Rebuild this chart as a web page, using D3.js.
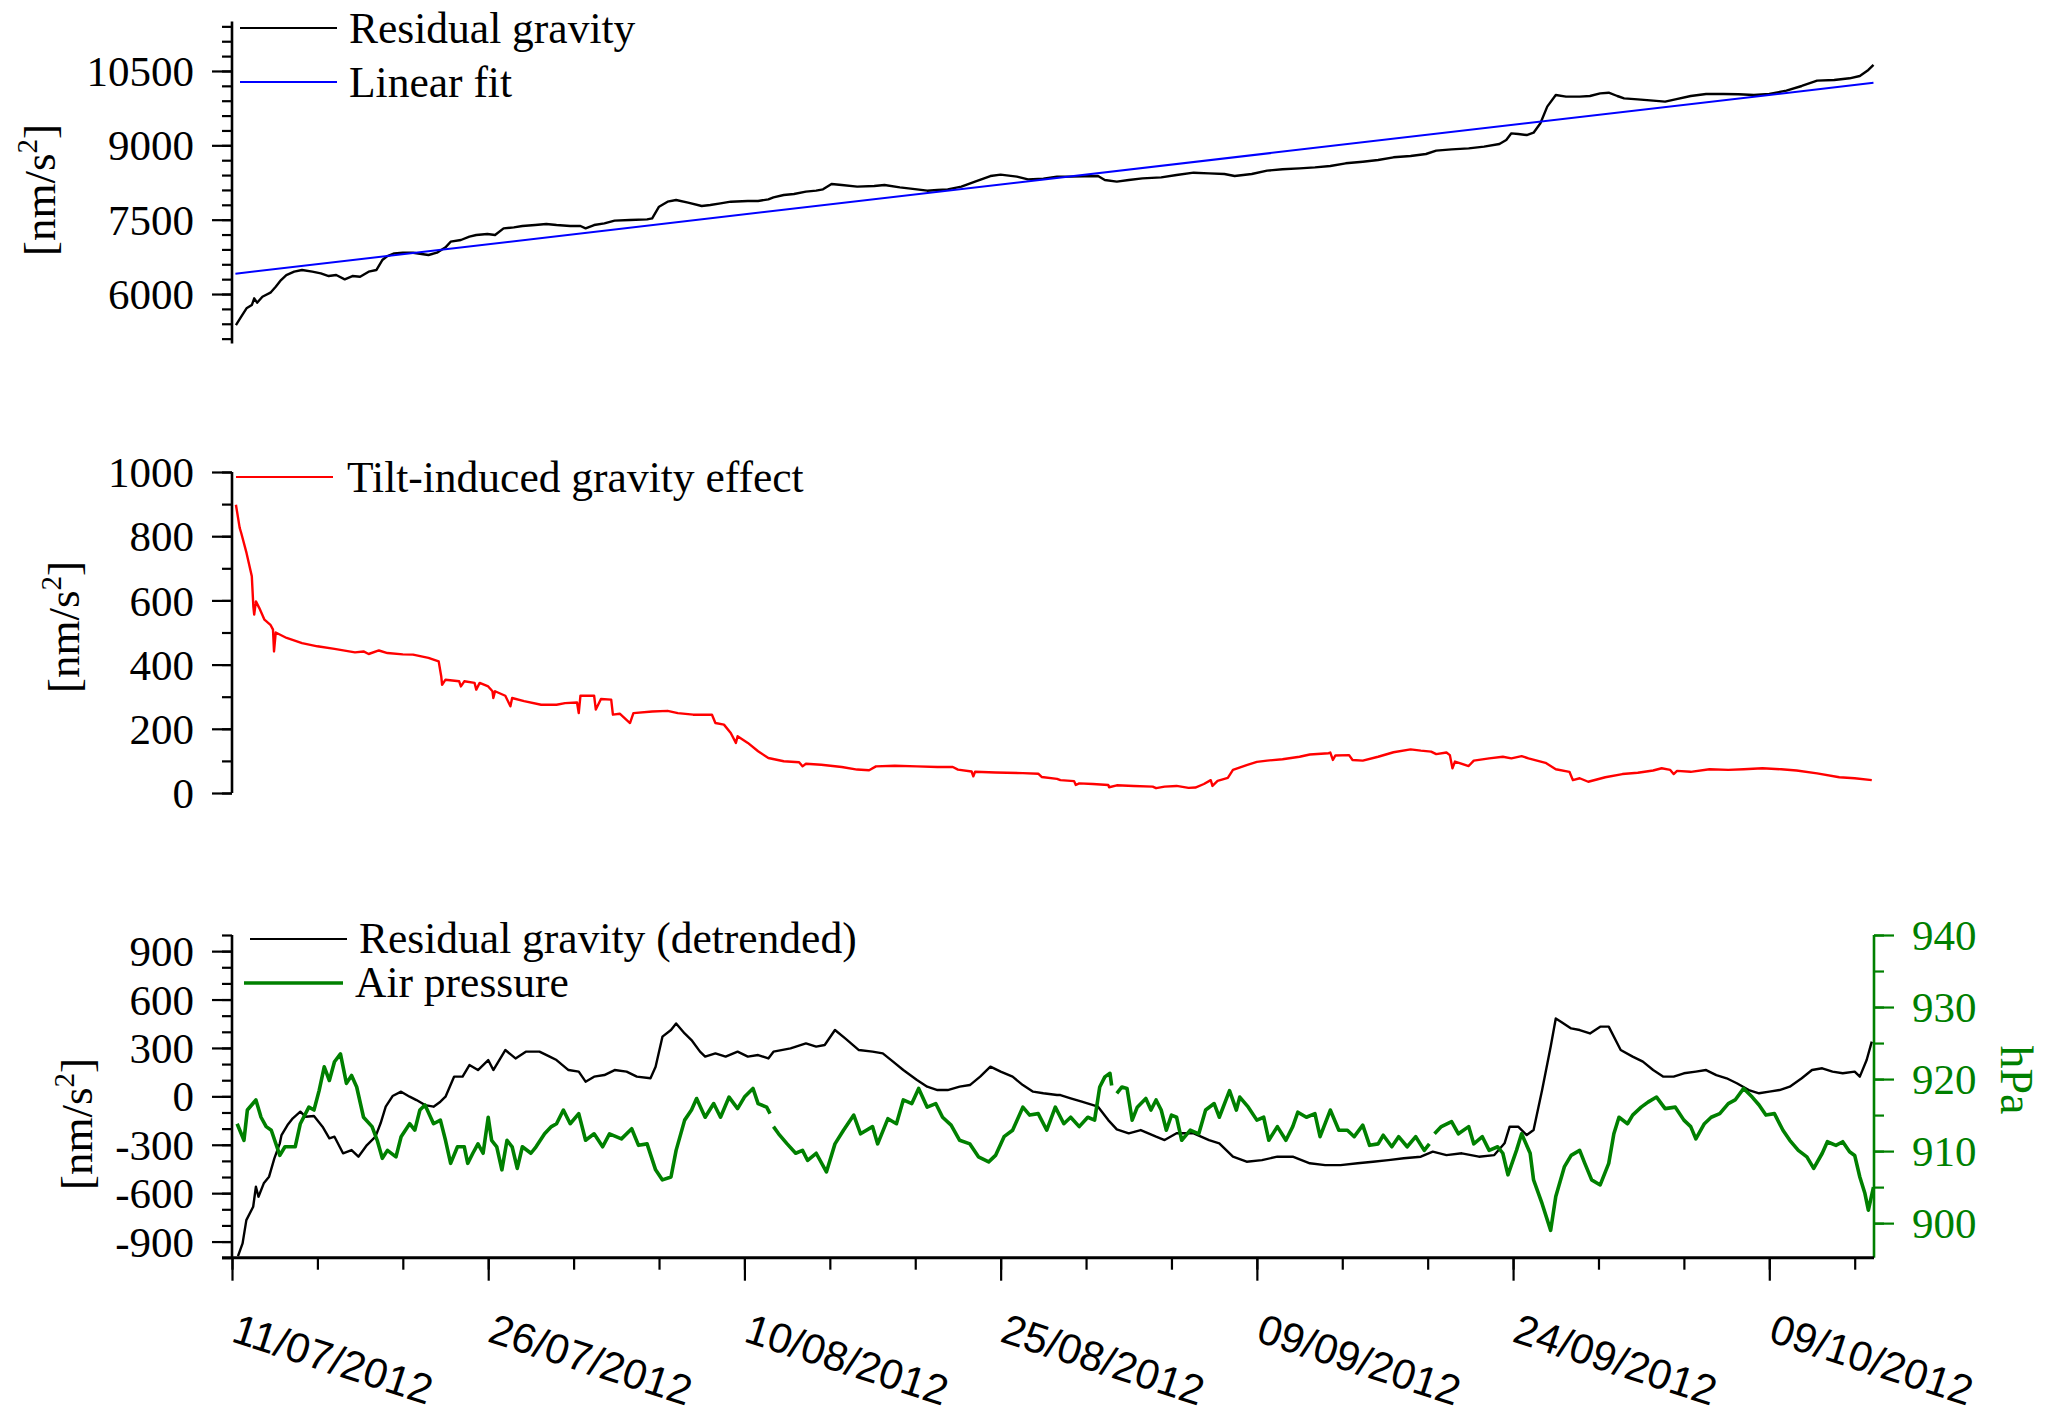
<!DOCTYPE html>
<html>
<head>
<meta charset="utf-8">
<script src="https://cdn.jsdelivr.net/npm/d3@7"></script>
<style>
  body { margin: 0; background: #fff; }
  svg { display: block; }
</style>
</head>
<body>
<svg id="chart" width="2045" height="1422"></svg>
<script>
// ---- Data: [days since 11/07/2012 00:00 UTC, value] ----

// Residual gravity, nm/s^2
const residualGravity = [
  [0.23,5374],[0.54,5543],[0.85,5711],[1.16,5778],[1.3,5913],[1.47,5825],[1.78,5946],[2.25,6027],
  [2.56,6148],[2.87,6282],[3.18,6383],[3.64,6451],[4.1,6484],[4.7,6451],[5.2,6417],[5.66,6363],
  [6.1,6383],[6.6,6296],[7.05,6363],[7.5,6350],[8.0,6451],[8.45,6484],[8.8,6686],[9.1,6767],
  [9.5,6821],[10.0,6834],[10.6,6834],[11.1,6807],[11.5,6787],[12.0,6834],[12.5,6942],[12.8,7056],
  [13.4,7090],[13.9,7157],[14.3,7191],[14.95,7211],[15.4,7191],[15.9,7325],[16.5,7345],[17.0,7372],
  [17.75,7392],[18.4,7412],[19.0,7392],[19.8,7372],[20.4,7372],[20.7,7325],[21.2,7392],[21.8,7426],
  [22.4,7480],[23.3,7493],[24.3,7507],[24.6,7527],[25.0,7762],[25.5,7863],[26.0,7897],[26.7,7843],
  [27.5,7776],[28.0,7796],[28.6,7830],[29.2,7863],[30.2,7877],[30.8,7877],[31.4,7910],[31.7,7950],
  [32.3,7998],[32.9,8018],[33.6,8065],[34.2,8085],[34.6,8112],[35.1,8220],[35.7,8199],[36.6,8166],
  [37.6,8179],[38.2,8199],[39.1,8152],[40.1,8112],[40.7,8085],[41.3,8098],[41.9,8112],[42.7,8166],
  [43.5,8267],[44.4,8381],[45.0,8408],[45.95,8368],[46.6,8314],[47.5,8327],[48.3,8368],[49.1,8368],
  [50.7,8381],[51.1,8300],[51.8,8267],[52.5,8300],[53.3,8334],[54.4,8354],[55.3,8401],[56.3,8448],
  [57.2,8435],[58.1,8421],[58.7,8381],[59.7,8421],[60.6,8489],[61.5,8516],[62.5,8536],[63.4,8556],
  [64.3,8583],[65.2,8637],[66.2,8670],[67.1,8704],[68.0,8758],[69.0,8785],[69.9,8825],[70.5,8892],
  [71.4,8919],[72.4,8939],[73.3,8973],[74.2,9027],[74.6,9107],[74.9,9242],[75.3,9228],[75.8,9208],
  [76.2,9255],[76.6,9444],[77.0,9780],[77.5,10015],[78.1,9982],[78.9,9982],[79.5,9995],[80.1,10049],
  [80.6,10062],[81.1,9995],[81.5,9948],[82.3,9928],[83.2,9901],[83.9,9881],[84.5,9928],[85.4,9995],
  [86.3,10036],[87.3,10036],[88.2,10029],[89.1,10015],[90.0,10036],[91.0,10103],[91.9,10197],
  [92.8,10305],[93.8,10318],[94.7,10352],[95.3,10399],[95.8,10520],[96.1,10621]
];

// Linear fit through the residual gravity (end points)
const linearFit = [[0.2,6410],[96.1,10262]];

// Tilt-induced gravity effect, nm/s^2
const tiltEffect = [
  [0.23,898],[0.45,826],[0.54,810],[0.85,748],[1.16,675],[1.25,581],[1.3,556],[1.4,597],[1.6,576],
  [1.9,540],[2.25,524],[2.4,509],[2.46,441],[2.56,500],[3.2,483],[4.1,467],[5.0,457],[6.0,449],
  [7.2,438],[7.7,441],[8.0,433],[8.6,444],[9.1,436],[10.0,432],[10.6,431],[11.5,421],[12.1,410],
  [12.25,363],[12.3,337],[12.5,353],[13.3,348],[13.4,332],[13.6,348],[14.2,343],[14.3,322],[14.5,343],
  [15.0,332],[15.25,317],[15.3,296],[15.4,317],[16.0,303],[16.3,270],[16.4,296],[17.1,286],[18.1,275],
  [19.0,275],[19.5,280],[20.2,282],[20.3,249],[20.4,303],[21.2,303],[21.3,260],[21.6,293],[22.2,291],
  [22.3,244],[22.7,247],[23.3,218],[23.5,249],[24.6,254],[25.5,256],[26.1,249],[27.0,244],[28.1,244],
  [28.3,218],[28.8,213],[29.2,187],[29.5,156],[29.6,177],[30.2,156],[30.8,130],[31.4,109],[32.3,99],
  [33.2,96],[33.4,83],[33.6,91],[34.5,88],[35.7,81],[36.6,73],[37.3,71],[37.7,83],[38.8,85],[40.1,83],
  [41.3,81],[42.2,81],[42.5,73],[43.3,67],[43.4,52],[43.5,66],[44.7,64],[46.3,62],[47.2,60],[47.4,50],
  [48.3,44],[48.5,40],[49.3,37],[49.4,25],[49.6,30],[50.4,28],[51.3,25],[51.35,18],[51.8,24],[52.8,22],
  [53.9,20],[54.1,15],[54.6,20],[55.3,22],[56.0,16],[56.4,17],[56.9,28],[57.3,40],[57.4,22],[57.7,38],
  [58.3,47],[58.6,72],[59.4,87],[60.0,97],[60.6,101],[61.5,105],[62.5,113],[63.1,120],[64.2,124],
  [64.3,126],[64.45,103],[64.6,117],[65.4,118],[65.6,103],[66.2,101],[67.1,113],[68.0,127],[69.0,136],
  [69.6,132],[70.2,129],[70.5,121],[71.1,126],[71.3,118],[71.45,77],[71.6,98],[72.4,84],[72.7,101],
  [73.6,108],[74.4,113],[74.9,108],[75.5,115],[75.9,108],[76.9,94],[77.5,74],[78.3,66],[78.5,40],
  [78.9,46],[79.4,35],[80.4,49],[81.4,59],[82.3,63],[83.2,70],[83.7,77],[84.2,72],[84.4,59],[84.6,69],
  [85.4,66],[86.5,74],[87.6,72],[88.5,74],[89.6,77],[90.7,74],[91.6,70],[92.8,61],[94.1,49],[95.0,46],
  [96.0,40]
];

// Residual gravity after removing the linear fit, nm/s^2
const detrendedGravity = [
  [0.35,-990],[0.62,-911],[0.84,-767],[1.24,-684],[1.4,-560],[1.55,-622],[1.86,-539],[2.17,-498],
  [2.48,-384],[2.8,-291],[2.9,-240],[3.25,-178],[3.56,-136],[4.0,-95],[4.3,-126],[4.8,-122],[5.3,-188],
  [5.7,-260],[6.0,-250],[6.5,-353],[7.0,-333],[7.4,-374],[7.9,-302],[8.4,-250],[8.7,-167],[9.0,-64],
  [9.4,2],[9.9,29],[10.4,-2],[10.8,-23],[11.3,-54],[11.8,-64],[12.2,-33],[12.5,-2],[13.0,122],
  [13.5,122],[13.9,194],[14.4,163],[15.0,225],[15.3,163],[16.0,287],[16.6,235],[17.2,277],[18.0,277],
  [18.6,246],[19.0,225],[19.7,163],[20.3,153],[20.7,91],[21.2,122],[21.8,132],[22.4,163],[23.1,153],
  [23.7,122],[24.5,112],[24.8,184],[25.2,370],[25.7,411],[26.0,452],[26.5,390],[26.9,349],[27.4,277],
  [27.7,246],[28.3,266],[28.9,246],[29.6,277],[30.2,246],[30.8,256],[31.4,235],[31.7,277],[32.7,297],
  [33.6,328],[34.2,308],[34.7,318],[35.3,411],[35.9,359],[36.7,287],[37.5,277],[38.1,266],[38.7,215],
  [39.3,163],[40.1,101],[40.7,60],[41.3,39],[41.9,39],[42.6,60],[43.2,70],[43.8,122],[44.4,184],
  [45.0,153],[45.7,122],[46.3,70],[46.9,29],[47.5,19],[48.3,8],[48.5,8],[49.1,-12],[49.75,-33],
  [50.7,-64],[51.3,-147],[51.8,-205],[52.5,-229],[53.2,-209],[54.1,-250],[54.6,-271],[55.3,-229],
  [56.3,-229],[57.2,-271],[57.8,-291],[58.6,-374],[59.4,-405],[60.3,-395],[61.2,-374],[62.1,-374],
  [63.1,-415],[64.0,-426],[64.9,-426],[65.9,-415],[66.8,-405],[67.7,-395],[68.6,-384],[69.6,-374],
  [70.3,-343],[71.1,-364],[72.0,-353],[73.0,-374],[73.9,-364],[74.5,-291],[74.8,-188],[75.3,-188],
  [75.8,-240],[76.2,-209],[76.7,39],[77.2,308],[77.5,483],[77.8,463],[78.4,421],[78.9,411],[79.5,390],
  [80.1,432],[80.6,432],[81.3,287],[82.0,246],[82.6,215],[83.2,163],[83.8,122],[84.4,122],[85.0,143],
  [85.7,153],[86.3,163],[86.9,132],[87.5,112],[88.1,81],[88.8,39],[89.4,19],[90.0,29],[90.6,39],
  [91.2,60],[91.9,112],[92.5,163],[93.1,174],[93.7,153],[94.3,143],[95.0,153],[95.3,122],[95.7,225],
  [96.0,339]
];

// Air pressure, hPa (null marks a gap in the record)
const airPressure = [
  [0.3,913.8],[0.7,911.5],[0.9,915.7],[1.4,917.1],[1.7,914.7],[2.0,913.4],[2.3,912.9],[2.8,909.4],
  [3.1,910.6],[3.4,910.6],[3.7,910.6],[4.0,913.8],[4.5,916.1],[4.8,915.7],[5.1,918.4],[5.4,921.7],
  [5.7,919.8],[6.0,922.4],[6.35,923.5],[6.7,919.4],[7.0,920.5],[7.3,918.9],[7.7,914.7],[8.2,913.4],
  [8.5,911.5],[8.8,909.0],[9.1,910.1],[9.6,909.2],[9.9,912.0],[10.4,913.8],[10.7,912.9],[11.0,915.7],
  [11.3,916.4],[11.8,913.8],[12.2,914.3],[12.5,911.5],[12.8,908.3],[13.2,910.6],[13.6,910.6],
  [13.8,908.3],[14.1,909.7],[14.4,911.0],[14.7,909.7],[15.0,914.7],[15.2,911.5],[15.5,910.6],
  [15.8,907.4],[16.1,911.5],[16.4,910.6],[16.7,907.6],[17.0,910.6],[17.5,909.7],[17.8,910.6],
  [18.3,912.4],[18.7,913.4],[19.0,913.8],[19.4,915.7],[19.8,913.8],[20.3,915.2],[20.7,911.5],
  [21.2,912.4],[21.7,910.6],[22.1,912.4],[22.8,911.7],[23.4,913.1],[23.8,910.8],[24.3,911.0],
  [24.8,907.4],[25.2,906.0],[25.7,906.4],[26.0,910.1],[26.5,914.3],[26.9,915.7],[27.2,917.3],
  [27.7,914.7],[28.2,916.6],[28.6,914.7],[29.1,917.5],[29.6,915.9],[30.0,917.5],[30.5,918.7],
  [30.8,916.6],[31.3,916.1],[31.5,915.2],[31.6,null],
  [31.7,913.4],[32.0,912.4],[32.5,911.0],[33.0,909.7],[33.4,910.1],[33.7,908.7],[34.2,909.7],
  [34.8,907.1],[35.3,911.0],[35.8,912.9],[36.4,915.0],[36.8,912.4],[37.5,913.4],[37.8,911.0],
  [38.4,914.5],[38.9,913.8],[39.3,917.1],[39.8,916.6],[40.2,918.7],[40.7,916.1],[41.2,916.6],
  [41.6,914.7],[42.1,913.6],[42.6,911.5],[43.2,911.0],[43.7,909.2],[44.3,908.5],[44.7,909.4],
  [45.2,912.0],[45.7,912.9],[46.3,916.1],[46.7,915.0],[47.2,915.2],[47.7,912.9],[48.2,916.1],
  [48.7,913.8],[49.1,914.7],[49.6,913.4],[50.1,914.7],[50.5,914.3],[50.8,918.9],[51.1,920.3],
  [51.4,920.8],[51.5,919.1],[51.65,null],
  [51.8,918.0],[52.1,918.9],[52.4,918.7],[52.7,914.3],[53.0,916.1],[53.5,917.3],[53.8,915.7],
  [54.1,917.1],[54.4,915.7],[54.7,912.9],[55.0,915.0],[55.3,914.7],[55.6,911.5],[56.1,912.9],
  [56.6,912.4],[57.0,915.7],[57.5,916.6],[57.8,914.7],[58.4,918.4],[58.8,915.7],[59.0,917.5],
  [59.5,916.1],[60.0,914.3],[60.4,914.7],[60.7,911.5],[61.2,913.4],[61.7,911.5],[62.1,913.4],
  [62.4,915.4],[62.9,914.7],[63.4,915.2],[63.7,912.0],[64.3,915.7],[64.8,912.9],[65.3,912.9],
  [65.7,912.0],[66.2,913.6],[66.6,910.8],[67.1,911.0],[67.4,912.2],[67.9,910.6],[68.3,912.0],
  [68.8,910.6],[69.3,912.0],[69.8,910.1],[70.1,911.0],[70.25,null],
  [70.4,912.4],[70.8,913.4],[71.4,914.1],[71.8,912.4],[72.4,913.4],[72.7,911.0],[73.2,912.0],
  [73.6,910.1],[74.1,910.6],[74.4,909.7],[74.7,906.7],[75.2,910.1],[75.5,912.4],[76.0,909.7],
  [76.2,906.0],[76.7,902.7],[77.2,899.0],[77.5,903.7],[78.0,907.8],[78.4,909.4],[78.9,910.1],
  [79.2,908.3],[79.6,906.0],[80.1,905.3],[80.6,908.3],[80.9,912.4],[81.2,914.7],[81.7,913.8],
  [82.0,915.0],[82.5,916.1],[82.9,916.8],[83.4,917.5],[83.9,915.9],[84.5,916.1],[85.0,914.3],
  [85.4,913.4],[85.7,911.7],[86.2,913.8],[86.6,914.7],[87.1,915.2],[87.6,916.6],[88.0,917.1],
  [88.5,918.7],[89.0,917.5],[89.4,916.4],[89.8,915.0],[90.3,915.2],[90.8,912.9],[91.2,911.5],
  [91.7,910.1],[92.2,909.2],[92.6,907.6],[93.1,909.7],[93.4,911.3],[93.9,910.8],[94.3,911.3],
  [94.7,909.9],[95.0,909.4],[95.3,906.4],[95.6,904.1],[95.8,901.8],[96.1,905.0]
];

// Axis ticks and labels
const gravMajor = [6000, 7500, 9000, 10500];
const gravMinor = d3.range(5100, 11401, 300);
const tiltMajor = [0, 200, 400, 600, 800, 1000];
const tiltMinor = d3.range(0, 1001, 100);
const detMajor = [-900, -600, -300, 0, 300, 600, 900];
const detMinor = d3.range(-1000, 1001, 100);
const presMajor = [900, 910, 920, 930, 940];
const presMinor = d3.range(900, 941, 5);
const dateTickDays = [0, 15, 30, 45, 60, 75, 90];
const dateTickLabels = ["11/07/2012", "26/07/2012", "10/08/2012", "25/08/2012",
                        "09/09/2012", "24/09/2012", "09/10/2012"];
const dateMinorDays = d3.range(0, 96, 5);

// ---- Scales ----
const START = Date.UTC(2012, 6, 11);
const DAY_MS = 864e5;
const toDate = d => new Date(START + d * DAY_MS);

const x = d3.scaleUtc().domain([toDate(0), toDate(96.13)]).range([232, 1874]);
const yGrav = d3.scaleLinear().domain([5000, 11500]).range([343.6, 21.4]);
const yTilt = d3.scaleLinear().domain([0, 1000]).range([793, 472]);
const yDet = d3.scaleLinear().domain([-1000, 1000]).range([1257.7, 935]);
const yPres = d3.scaleLinear().domain([895.2, 940]).range([1257.7, 935]);

const GREEN = "#008000";
const SERIF = "'Liberation Serif', 'Times New Roman', serif";
const SANS = "'Liberation Sans', Arial, sans-serif";

const svg = d3.select("#chart");
svg.append("rect").attr("width", 2045).attr("height", 1422).attr("fill", "#fff");

// ---- Vertical axes ----
function yAxis(scale, xPos, major, minor, side, color) {
  const mk = side === "left" ? d3.axisLeft : d3.axisRight;
  const g = svg.append("g").attr("transform", `translate(${xPos},0)`);
  g.append("g")
    .call(mk(scale).tickValues(minor).tickSize(10).tickSizeOuter(0).tickFormat(""))
    .call(s => s.select(".domain").remove());
  g.append("g")
    .call(mk(scale).tickValues(major).tickSize(20).tickSizeOuter(0).tickPadding(18)
      .tickFormat(d => String(d)))
    .call(s => s.select(".domain").remove());
  g.selectAll(".tick line").attr("stroke", color).attr("stroke-width", 2.2);
  g.selectAll(".tick text")
    .attr("fill", color)
    .attr("font-family", SERIF)
    .attr("font-size", 43)
    .attr("dy", "0.34em");
  const r = scale.range();
  g.append("line").attr("x1", 0).attr("x2", 0).attr("y1", r[0]).attr("y2", r[1])
    .attr("stroke", color).attr("stroke-width", 2.6);
  return g;
}

yAxis(yGrav, 232, gravMajor, gravMinor, "left", "#000");
yAxis(yTilt, 232, tiltMajor, tiltMinor, "left", "#000");
yAxis(yDet, 232, detMajor, detMinor, "left", "#000");
yAxis(yPres, 1874, presMajor, presMinor, "right", GREEN);

// ---- Time axis (bottom panel) ----
const xg = svg.append("g").attr("transform", "translate(0,1257.7)");
xg.append("g")
  .call(d3.axisBottom(x).tickValues(dateMinorDays.map(toDate)).tickSize(12).tickSizeOuter(0).tickFormat(""))
  .call(s => s.select(".domain").remove());
xg.append("g")
  .call(d3.axisBottom(x).tickValues(dateTickDays.map(toDate)).tickSize(23).tickSizeOuter(0).tickFormat(""))
  .call(s => s.select(".domain").remove());
xg.selectAll(".tick line").attr("stroke", "#000").attr("stroke-width", 2.2);
xg.append("line").attr("x1", 222).attr("x2", 1874).attr("y1", 0).attr("y2", 0)
  .attr("stroke", "#000").attr("stroke-width", 3);

// Rotated date labels under the major ticks
svg.append("g").selectAll("text")
  .data(dateTickDays)
  .join("text")
  .attr("transform", d => `translate(${x(toDate(d)) - 2},1341) rotate(18)`)
  .attr("font-family", SANS)
  .attr("font-size", 42)
  .attr("fill", "#000")
  .text((d, i) => dateTickLabels[i]);

// ---- Series ----
const lineFor = yScale => d3.line()
  .defined(d => d[1] != null)
  .x(d => x(toDate(d[0])))
  .y(d => yScale(d[1]));

function drawSeries(data, yScale, color, width) {
  svg.append("path")
    .datum(data)
    .attr("fill", "none")
    .attr("stroke", color)
    .attr("stroke-width", width)
    .attr("stroke-linejoin", "round")
    .attr("d", lineFor(yScale));
}

drawSeries(residualGravity, yGrav, "#000", 2.4);
drawSeries(linearFit, yGrav, "#0000ff", 2);
drawSeries(tiltEffect, yTilt, "#ff0000", 2.4);
drawSeries(detrendedGravity, yDet, "#000", 2.4);
drawSeries(airPressure, yPres, GREEN, 3.6);

// ---- Legends ----
function legendItem(x1, x2, ly, tx, ty, color, width, label) {
  svg.append("line").attr("x1", x1).attr("x2", x2).attr("y1", ly).attr("y2", ly)
    .attr("stroke", color).attr("stroke-width", width);
  svg.append("text").attr("x", tx).attr("y", ty)
    .attr("font-family", SERIF).attr("font-size", 43.5).attr("fill", "#000")
    .text(label);
}
legendItem(240, 337, 28, 349, 43, "#000", 2, "Residual gravity");
legendItem(240, 337, 82, 349, 97, "#0000ff", 2, "Linear fit");
legendItem(236, 333, 477, 347, 492, "#ff0000", 2, "Tilt-induced gravity effect");
legendItem(250, 347, 939, 359, 953, "#000", 2, "Residual gravity (detrended)");
legendItem(244, 343, 983, 355, 997, GREEN, 3.6, "Air pressure");

// ---- Axis titles ----
function unitTitle(bx, cy) {
  const t = svg.append("text")
    .attr("transform", `translate(${bx},${cy}) rotate(-90)`)
    .attr("text-anchor", "middle")
    .attr("font-family", SERIF)
    .attr("font-size", 45)
    .attr("fill", "#000");
  t.append("tspan").text("[nm/s");
  t.append("tspan").attr("font-size", 29).attr("dy", -18).text("2");
  t.append("tspan").attr("dy", 18).text("]");
}
unitTitle(55, 190);
unitTitle(79, 627);
unitTitle(92, 1124);

svg.append("text")
  .attr("transform", "translate(2001,1080) rotate(90)")
  .attr("text-anchor", "middle")
  .attr("font-family", SERIF)
  .attr("font-size", 46)
  .attr("fill", GREEN)
  .text("hPa");
</script>
</body>
</html>
